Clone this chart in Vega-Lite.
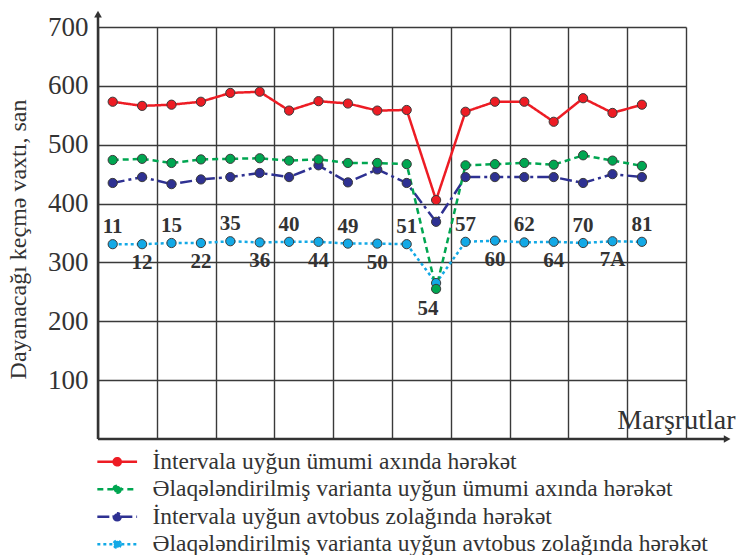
{
  "$schema": "https://vega.github.io/schema/vega-lite/v6.json",
  "width": 588,
  "height": 412,
  "autosize": {"type": "none"},
  "padding": {"left": 98, "top": 27, "right": 52, "bottom": 116},
  "background": "white",
  "config": {"view": {"stroke": null}, "font": "Liberation Serif"},
  "datasets": {
    "routes": [
      {"n": 1, "route": "11", "İntervala uyğun ümumi axında hərəkət": 573, "Əlaqələndirilmiş varianta uyğun ümumi axında hərəkət": 474, "İntervala uyğun avtobus zolağında hərəkət": 435, "Əlaqələndirilmiş varianta uyğun avtobus zolağında hərəkət": 331},
      {"n": 2, "route": "12", "İntervala uyğun ümumi axında hərəkət": 566, "Əlaqələndirilmiş varianta uyğun ümumi axında hərəkət": 476, "İntervala uyğun avtobus zolağında hərəkət": 445, "Əlaqələndirilmiş varianta uyğun avtobus zolağında hərəkət": 331},
      {"n": 3, "route": "15", "İntervala uyğun ümumi axında hərəkət": 568, "Əlaqələndirilmiş varianta uyğun ümumi axında hərəkət": 469, "İntervala uyğun avtobus zolağında hərəkət": 433, "Əlaqələndirilmiş varianta uyğun avtobus zolağında hərəkət": 333},
      {"n": 4, "route": "22", "İntervala uyğun ümumi axında hərəkət": 573, "Əlaqələndirilmiş varianta uyğun ümumi axında hərəkət": 475, "İntervala uyğun avtobus zolağında hərəkət": 441, "Əlaqələndirilmiş varianta uyğun avtobus zolağında hərəkət": 333},
      {"n": 5, "route": "35", "İntervala uyğun ümumi axında hərəkət": 588, "Əlaqələndirilmiş varianta uyğun ümumi axında hərəkət": 476, "İntervala uyğun avtobus zolağında hərəkət": 445, "Əlaqələndirilmiş varianta uyğun avtobus zolağında hərəkət": 336},
      {"n": 6, "route": "36", "İntervala uyğun ümumi axında hərəkət": 590, "Əlaqələndirilmiş varianta uyğun ümumi axında hərəkət": 477, "İntervala uyğun avtobus zolağında hərəkət": 452, "Əlaqələndirilmiş varianta uyğun avtobus zolağında hərəkət": 334},
      {"n": 7, "route": "40", "İntervala uyğun ümumi axında hərəkət": 558, "Əlaqələndirilmiş varianta uyğun ümumi axında hərəkət": 473, "İntervala uyğun avtobus zolağında hərəkət": 445, "Əlaqələndirilmiş varianta uyğun avtobus zolağında hərəkət": 335},
      {"n": 8, "route": "44", "İntervala uyğun ümumi axında hərəkət": 574, "Əlaqələndirilmiş varianta uyğun ümumi axında hərəkət": 475, "İntervala uyğun avtobus zolağında hərəkət": 465, "Əlaqələndirilmiş varianta uyğun avtobus zolağında hərəkət": 335},
      {"n": 9, "route": "49", "İntervala uyğun ümumi axında hərəkət": 570, "Əlaqələndirilmiş varianta uyğun ümumi axında hərəkət": 469, "İntervala uyğun avtobus zolağında hərəkət": 436, "Əlaqələndirilmiş varianta uyğun avtobus zolağında hərəkət": 332},
      {"n": 10, "route": "50", "İntervala uyğun ümumi axında hərəkət": 558, "Əlaqələndirilmiş varianta uyğun ümumi axında hərəkət": 469, "İntervala uyğun avtobus zolağında hərəkət": 458, "Əlaqələndirilmiş varianta uyğun avtobus zolağında hərəkət": 332},
      {"n": 11, "route": "51", "İntervala uyğun ümumi axında hərəkət": 559, "Əlaqələndirilmiş varianta uyğun ümumi axında hərəkət": 467, "İntervala uyğun avtobus zolağında hərəkət": 435, "Əlaqələndirilmiş varianta uyğun avtobus zolağında hərəkət": 331},
      {"n": 12, "route": "54", "İntervala uyğun ümumi axında hərəkət": 406, "Əlaqələndirilmiş varianta uyğun ümumi axında hərəkət": 255, "İntervala uyğun avtobus zolağında hərəkət": 369, "Əlaqələndirilmiş varianta uyğun avtobus zolağında hərəkət": 265},
      {"n": 13, "route": "57", "İntervala uyğun ümumi axında hərəkət": 556, "Əlaqələndirilmiş varianta uyğun ümumi axında hərəkət": 465, "İntervala uyğun avtobus zolağında hərəkət": 445, "Əlaqələndirilmiş varianta uyğun avtobus zolağında hərəkət": 335},
      {"n": 14, "route": "60", "İntervala uyğun ümumi axında hərəkət": 573, "Əlaqələndirilmiş varianta uyğun ümumi axında hərəkət": 467, "İntervala uyğun avtobus zolağında hərəkət": 445, "Əlaqələndirilmiş varianta uyğun avtobus zolağında hərəkət": 337},
      {"n": 15, "route": "62", "İntervala uyğun ümumi axında hərəkət": 573, "Əlaqələndirilmiş varianta uyğun ümumi axında hərəkət": 469, "İntervala uyğun avtobus zolağında hərəkət": 445, "Əlaqələndirilmiş varianta uyğun avtobus zolağında hərəkət": 334},
      {"n": 16, "route": "64", "İntervala uyğun ümumi axında hərəkət": 539, "Əlaqələndirilmiş varianta uyğun ümumi axında hərəkət": 466, "İntervala uyğun avtobus zolağında hərəkət": 445, "Əlaqələndirilmiş varianta uyğun avtobus zolağında hərəkət": 335},
      {"n": 17, "route": "70", "İntervala uyğun ümumi axında hərəkət": 579, "Əlaqələndirilmiş varianta uyğun ümumi axında hərəkət": 482, "İntervala uyğun avtobus zolağında hərəkət": 435, "Əlaqələndirilmiş varianta uyğun avtobus zolağında hərəkət": 333},
      {"n": 18, "route": "7A", "İntervala uyğun ümumi axında hərəkət": 554, "Əlaqələndirilmiş varianta uyğun ümumi axında hərəkət": 473, "İntervala uyğun avtobus zolağında hərəkət": 450, "Əlaqələndirilmiş varianta uyğun avtobus zolağında hərəkət": 336},
      {"n": 19, "route": "81", "İntervala uyğun ümumi axında hərəkət": 568, "Əlaqələndirilmiş varianta uyğun ümumi axında hərəkət": 464, "İntervala uyğun avtobus zolağında hərəkət": 445, "Əlaqələndirilmiş varianta uyğun avtobus zolağında hərəkət": 335}
    ]
  },
  "data": {"name": "routes"},
  "layer": [
    {
      "transform": [{"fold": ["İntervala uyğun ümumi axında hərəkət", "İntervala uyğun avtobus zolağında hərəkət", "Əlaqələndirilmiş varianta uyğun avtobus zolağında hərəkət", "Əlaqələndirilmiş varianta uyğun ümumi axında hərəkət"], "as": ["series", "value"]}],
      "mark": {"type": "line", "strokeWidth": 2.5},
      "encoding": {
        "x": {"field": "n", "type": "quantitative", "scale": {"domain": [0.5, 20.5], "nice": false, "zero": false},
          "axis": {"values": [0.5, 2.5, 4.5, 6.5, 8.5, 10.5, 12.5, 14.5, 16.5, 18.5, 20.5], "domain": false, "ticks": false, "labels": false, "grid": true, "gridColor": "#3a3a3a", "gridWidth": 1.4, "gridOpacity": 1,
            "title": "Marşrutlar", "titleFont": "Liberation Serif", "titleFontSize": 28, "titleFontWeight": "normal", "titleColor": "#333", "titleX": 637, "titleY": -11, "titleAlign": "right", "titleBaseline": "alphabetic"}},
        "y": {"field": "value", "type": "quantitative", "scale": {"domain": [0, 700], "nice": false},
          "axis": {"values": [100, 200, 300, 400, 500, 600, 700], "domain": false, "ticks": false, "grid": true, "gridColor": "#3a3a3a", "gridWidth": 1.4, "gridOpacity": 1,
            "labelFont": "Liberation Serif", "labelFontSize": 27, "labelColor": "#333", "labelPadding": 10,
            "title": "Dayanacağı keçmə vaxtı, san", "titleFont": "Liberation Serif", "titleFontSize": 24, "titleFontWeight": "normal", "titleColor": "#333", "titleX": -80, "titleY": 212, "titleAngle": -90, "titleAlign": "center", "titleBaseline": "middle"}},
        "color": {"field": "series", "type": "nominal",
          "scale": {"domain": ["İntervala uyğun ümumi axında hərəkət", "Əlaqələndirilmiş varianta uyğun ümumi axında hərəkət", "İntervala uyğun avtobus zolağında hərəkət", "Əlaqələndirilmiş varianta uyğun avtobus zolağında hərəkət"], "range": ["#ed1c24", "#00a651", "#2e3192", "#13a9e6"]},
          "legend": {"title": null, "orient": "none", "legendX": -8, "legendY": 423, "direction": "vertical", "padding": 0,
            "symbolType": "M-1,0H8M4.3,0A0.8,0.8,0,1,1,2.7,0A0.8,0.8,0,1,1,4.3,0Z", "symbolSize": 78, "symbolStrokeWidth": 2.5,
            "labelFont": "Liberation Serif", "labelFontSize": 23.5, "labelColor": "#333", "labelOffset": 39, "rowPadding": 2.5, "labelLimit": 700,
            "encode": {"symbols": {"update": {"fill": {"scale": "color", "field": "value"}, "opacity": {"value": 1}}}}}},
        "strokeDash": {"field": "series", "type": "nominal",
          "scale": {"domain": ["İntervala uyğun ümumi axında hərəkət", "Əlaqələndirilmiş varianta uyğun ümumi axında hərəkət", "İntervala uyğun avtobus zolağında hərəkət", "Əlaqələndirilmiş varianta uyğun avtobus zolağında hərəkət"], "range": [[1, 0], [6, 4], [12, 4, 3, 4], [3, 3]]},
          "legend": {"title": null, "orient": "none", "legendX": -8, "legendY": 423, "direction": "vertical", "padding": 0,
            "symbolType": "M-1,0H8M4.3,0A0.8,0.8,0,1,1,2.7,0A0.8,0.8,0,1,1,4.3,0Z", "symbolSize": 78, "symbolStrokeWidth": 2.5,
            "labelFont": "Liberation Serif", "labelFontSize": 23.5, "labelColor": "#333", "labelOffset": 39, "rowPadding": 2.5, "labelLimit": 700,
            "encode": {"symbols": {"update": {"fill": {"scale": "color", "field": "value"}, "opacity": {"value": 1}}}}}}
      }
    },
    {
      "transform": [{"fold": ["İntervala uyğun ümumi axında hərəkət", "İntervala uyğun avtobus zolağında hərəkət", "Əlaqələndirilmiş varianta uyğun avtobus zolağında hərəkət", "Əlaqələndirilmiş varianta uyğun ümumi axında hərəkət"], "as": ["series", "value"]}],
      "mark": {"type": "point", "filled": true, "size": 85, "stroke": "#3a3a3a", "strokeWidth": 1, "opacity": 1},
      "encoding": {
        "x": {"field": "n", "type": "quantitative"},
        "y": {"field": "value", "type": "quantitative"},
        "fill": {"field": "series", "type": "nominal", "scale": {"domain": ["İntervala uyğun ümumi axında hərəkət", "Əlaqələndirilmiş varianta uyğun ümumi axında hərəkət", "İntervala uyğun avtobus zolağında hərəkət", "Əlaqələndirilmiş varianta uyğun avtobus zolağında hərəkət"], "range": ["#ed1c24", "#00a651", "#2e3192", "#13a9e6"]}, "legend": null}
      }
    },
    {
      "transform": [{"filter": {"field": "route", "oneOf": ["11", "15", "35", "40", "49", "51", "57", "62", "70", "81"]}}],
      "mark": {"type": "text", "font": "Liberation Serif", "fontWeight": "bold", "fontSize": 21, "color": "#333", "dy": -17, "baseline": "middle", "align": "center"},
      "encoding": {
        "x": {"field": "n", "type": "quantitative"},
        "y": {"field": "Əlaqələndirilmiş varianta uyğun avtobus zolağında hərəkət", "type": "quantitative"},
        "text": {"field": "route"}
      }
    },
    {
      "transform": [{"filter": {"field": "route", "oneOf": ["12", "22", "36", "44", "50", "60", "64", "7A"]}}],
      "mark": {"type": "text", "font": "Liberation Serif", "fontWeight": "bold", "fontSize": 21, "color": "#333", "dy": 19, "baseline": "middle", "align": "center"},
      "encoding": {
        "x": {"field": "n", "type": "quantitative"},
        "y": {"field": "Əlaqələndirilmiş varianta uyğun avtobus zolağında hərəkət", "type": "quantitative"},
        "text": {"field": "route"}
      }
    },
    {
      "transform": [{"filter": {"field": "route", "equal": "54"}}],
      "mark": {"type": "text", "font": "Liberation Serif", "fontWeight": "bold", "fontSize": 21, "color": "#333", "dy": 20, "dx": -8, "baseline": "middle", "align": "center"},
      "encoding": {
        "x": {"field": "n", "type": "quantitative"},
        "y": {"field": "Əlaqələndirilmiş varianta uyğun ümumi axında hərəkət", "type": "quantitative"},
        "text": {"field": "route"}
      }
    },
    {
      "data": {"values": [{}]},
      "mark": {"type": "rule", "strokeWidth": 2.5, "color": "#333"},
      "encoding": {"x": {"datum": 0.5, "type": "quantitative"}, "y": {"datum": 0, "type": "quantitative"}, "y2": {"datum": 722}}
    },
    {
      "data": {"values": [{}]},
      "mark": {"type": "rule", "strokeWidth": 2.5, "color": "#333"},
      "encoding": {"x": {"datum": 0.5, "type": "quantitative"}, "x2": {"datum": 21.8}, "y": {"datum": 0, "type": "quantitative"}}
    },
    {
      "data": {"values": [{}]},
      "mark": {"type": "point", "shape": "triangle-up", "filled": true, "size": 60, "color": "#333", "opacity": 1},
      "encoding": {"x": {"datum": 0.5, "type": "quantitative"}, "y": {"datum": 722, "type": "quantitative"}}
    },
    {
      "data": {"values": [{}]},
      "mark": {"type": "point", "shape": "triangle-right", "filled": true, "size": 60, "color": "#333", "opacity": 1},
      "encoding": {"x": {"datum": 21.9, "type": "quantitative"}, "y": {"datum": 0, "type": "quantitative"}}
    }
  ]
}
